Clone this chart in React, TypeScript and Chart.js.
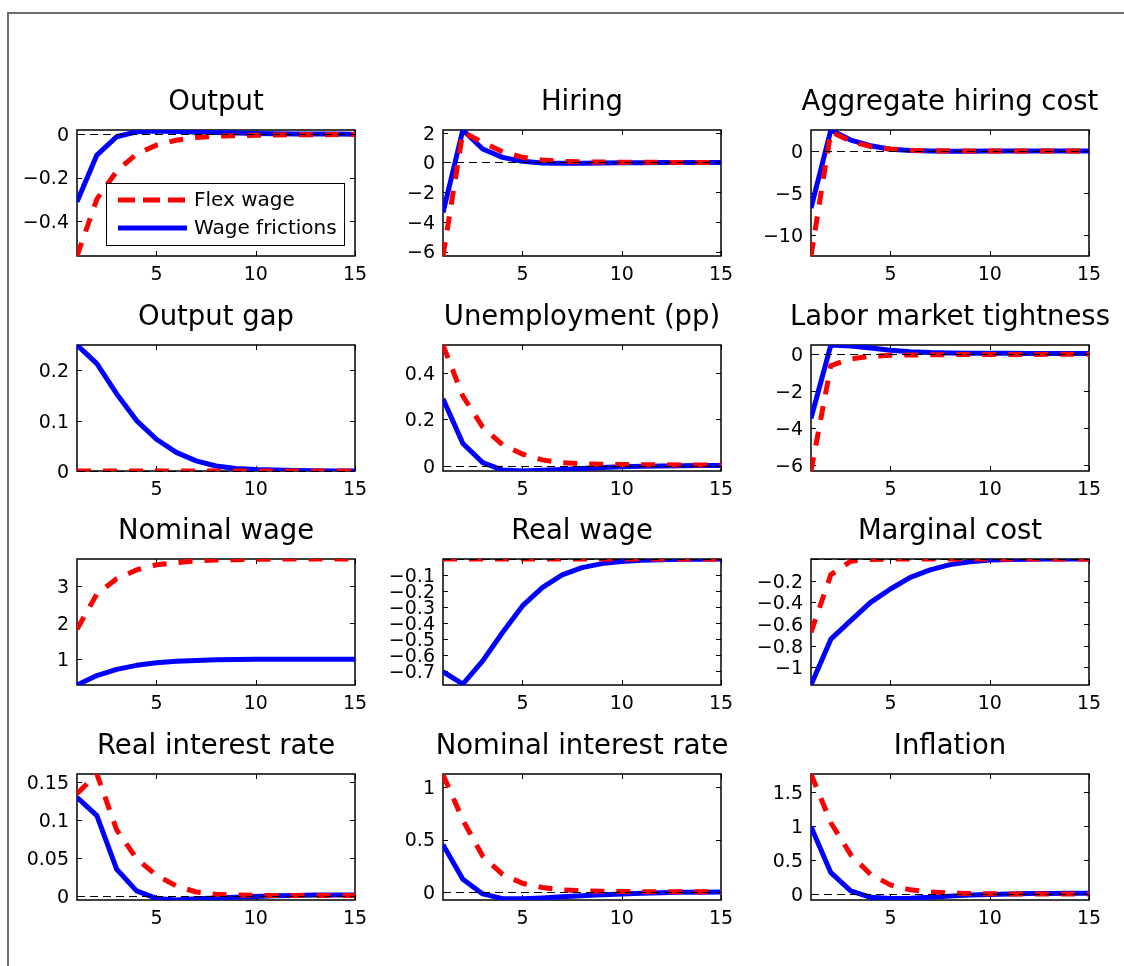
import React, { useEffect, useRef } from 'react';
import { Chart, registerables } from 'chart.js';

Chart.register(...registerables);

// ---------- data ----------
const PERIODS = [1, 2, 3, 4, 5, 6, 7, 8, 9, 10, 11, 12, 13, 14, 15];
const X_TICKS = [5, 10, 15];
const SERIES_LABELS = ['Flex wage', 'Wage frictions'];

const OUTPUT_FLEX = [-0.563, -0.3, -0.17, -0.091, -0.05, -0.027, -0.015, -0.009, -0.006, -0.004, -0.003, -0.002, -0.002, -0.001, -0.001];
const OUTPUT_FRIC = [-0.312, -0.096, -0.011, 0.012, 0.015, 0.013, 0.011, 0.008, 0.006, 0.004, 0.003, 0.002, 0.001, 0.001, 0.0];
const OUTPUT_RANGE = [-0.563, 0.02];
const OUTPUT_TICKS = [-0.4, -0.2, 0];

const HIRING_FLEX = [-6.3, 2.05, 1.35, 0.72, 0.34, 0.16, 0.07, 0.03, 0.02, 0.01, 0.01, 0.0, 0.0, 0.0, 0.0];
const HIRING_FRIC = [-3.38, 2.18, 0.9, 0.34, 0.07, -0.04, -0.06, -0.05, -0.04, -0.03, -0.02, -0.01, -0.01, 0.0, 0.0];
const HIRING_RANGE = [-6.3, 2.18];
const HIRING_TICKS = [-6, -4, -2, 0, 2];

const AGGCOST_FLEX = [-12.5, 2.3, 1.15, 0.52, 0.24, 0.1, 0.05, 0.02, 0.01, 0.0, 0.0, 0.0, 0.0, 0.0, 0.0];
const AGGCOST_FRIC = [-6.8, 2.5, 1.3, 0.63, 0.2, 0.05, 0.0, -0.02, -0.02, -0.01, -0.01, 0.0, 0.0, 0.0, 0.0];
const AGGCOST_RANGE = [-12.5, 2.5];
const AGGCOST_TICKS = [-10, -5, 0];

const GAP_FLEX = [0, 0, 0, 0, 0, 0, 0, 0, 0, 0, 0, 0, 0, 0, 0];
const GAP_FRIC = [0.25, 0.213, 0.153, 0.1, 0.063, 0.037, 0.02, 0.01, 0.005, 0.003, 0.002, 0.001, 0.0005, 0.0002, 0.0001];
const GAP_RANGE = [0, 0.25];
const GAP_TICKS = [0, 0.1, 0.2];

const UNEMP_FLEX = [0.521, 0.3, 0.167, 0.09, 0.05, 0.025, 0.013, 0.008, 0.006, 0.005, 0.004, 0.004, 0.003, 0.003, 0.003];
const UNEMP_FRIC = [0.289, 0.096, 0.013, -0.019, -0.023, -0.02, -0.016, -0.012, -0.008, -0.005, -0.003, -0.001, 0.0, 0.001, 0.001];
const UNEMP_RANGE = [-0.023, 0.521];
const UNEMP_TICKS = [0, 0.2, 0.4];

const TIGHT_FLEX = [-6.33, -0.63, -0.27, -0.13, -0.08, -0.06, -0.05, -0.04, -0.04, -0.03, -0.03, -0.03, -0.02, -0.02, -0.02];
const TIGHT_FRIC = [-3.49, 0.48, 0.42, 0.32, 0.2, 0.12, 0.07, 0.05, 0.04, 0.03, 0.03, 0.02, 0.02, 0.02, 0.02];
const TIGHT_RANGE = [-6.33, 0.48];
const TIGHT_TICKS = [-6, -4, -2, 0];

const NOMW_FLEX = [1.82, 2.79, 3.21, 3.45, 3.59, 3.65, 3.7, 3.72, 3.73, 3.74, 3.745, 3.75, 3.75, 3.75, 3.75];
const NOMW_FRIC = [0.29, 0.55, 0.72, 0.83, 0.9, 0.94, 0.965, 0.98, 0.99, 0.995, 1.0, 1.0, 1.0, 1.0, 1.0];
const NOMW_RANGE = [0.29, 3.75];
const NOMW_TICKS = [1, 2, 3];

const REALW_FLEX = [0, 0, 0, 0, 0, 0, 0, 0, 0, 0, 0, 0, 0, 0, 0];
const REALW_FRIC = [-0.706, -0.783, -0.638, -0.46, -0.294, -0.179, -0.1, -0.054, -0.029, -0.015, -0.008, -0.004, -0.002, -0.001, 0.0];
const REALW_RANGE = [-0.789, 0];
const REALW_TICKS = [-0.7, -0.6, -0.5, -0.4, -0.3, -0.2, -0.1];

const MC_FLEX = [-0.677, -0.145, -0.02, -0.005, -0.001, 0, 0, 0, 0, 0, 0, 0, 0, 0, 0];
const MC_FRIC = [-1.163, -0.74, -0.569, -0.4, -0.277, -0.169, -0.1, -0.052, -0.025, -0.01, -0.005, -0.002, -0.001, 0, 0];
const MC_RANGE = [-1.163, 0];
const MC_TICKS = [-1, -0.8, -0.6, -0.4, -0.2];

const RIR_FLEX = [0.135, 0.161, 0.087, 0.049, 0.027, 0.013, 0.005, 0.002, 0.001, 0.0005, 0.0005, 0.0005, 0.0005, 0.0005, 0.0005];
const RIR_FRIC = [0.13, 0.106, 0.035, 0.0065, -0.0035, -0.0055, -0.004, -0.003, -0.002, -0.001, 0.0, 0.0005, 0.001, 0.001, 0.001];
const RIR_RANGE = [-0.0056, 0.161];
const RIR_TICKS = [0, 0.05, 0.1, 0.15];

const NIR_FLEX = [1.12, 0.686, 0.34, 0.167, 0.082, 0.041, 0.019, 0.01, 0.005, 0.003, 0.002, 0.001, 0.001, 0.0, 0.0];
const NIR_FRIC = [0.45, 0.12, -0.02, -0.065, -0.065, -0.058, -0.048, -0.038, -0.028, -0.02, -0.013, -0.008, -0.005, -0.003, -0.002];
const NIR_RANGE = [-0.078, 1.126];
const NIR_TICKS = [0, 0.5, 1];

const INFL_FLEX = [1.767, 1.05, 0.58, 0.29, 0.135, 0.063, 0.03, 0.015, 0.008, 0.004, 0.002, 0.001, 0.001, 0.0, 0.0];
const INFL_FRIC = [0.99, 0.315, 0.048, -0.048, -0.065, -0.06, -0.045, -0.03, -0.015, -0.005, 0.003, 0.008, 0.01, 0.012, 0.012];
const INFL_RANGE = [-0.087, 1.767];
const INFL_TICKS = [0, 0.5, 1, 1.5];

const PANELS = [
  { title: 'Output', flex: OUTPUT_FLEX, fric: OUTPUT_FRIC, range: OUTPUT_RANGE, ticks: OUTPUT_TICKS, legend: true },
  { title: 'Hiring', flex: HIRING_FLEX, fric: HIRING_FRIC, range: HIRING_RANGE, ticks: HIRING_TICKS },
  { title: 'Aggregate hiring cost', flex: AGGCOST_FLEX, fric: AGGCOST_FRIC, range: AGGCOST_RANGE, ticks: AGGCOST_TICKS },
  { title: 'Output gap', flex: GAP_FLEX, fric: GAP_FRIC, range: GAP_RANGE, ticks: GAP_TICKS },
  { title: 'Unemployment (pp)', flex: UNEMP_FLEX, fric: UNEMP_FRIC, range: UNEMP_RANGE, ticks: UNEMP_TICKS },
  { title: 'Labor market tightness', flex: TIGHT_FLEX, fric: TIGHT_FRIC, range: TIGHT_RANGE, ticks: TIGHT_TICKS },
  { title: 'Nominal wage', flex: NOMW_FLEX, fric: NOMW_FRIC, range: NOMW_RANGE, ticks: NOMW_TICKS },
  { title: 'Real wage', flex: REALW_FLEX, fric: REALW_FRIC, range: REALW_RANGE, ticks: REALW_TICKS },
  { title: 'Marginal cost', flex: MC_FLEX, fric: MC_FRIC, range: MC_RANGE, ticks: MC_TICKS },
  { title: 'Real interest rate', flex: RIR_FLEX, fric: RIR_FRIC, range: RIR_RANGE, ticks: RIR_TICKS },
  { title: 'Nominal interest rate', flex: NIR_FLEX, fric: NIR_FRIC, range: NIR_RANGE, ticks: NIR_TICKS },
  { title: 'Inflation', flex: INFL_FLEX, fric: INFL_FRIC, range: INFL_RANGE, ticks: INFL_TICKS },
];

// ---------- layout / style ----------
const COL_LEFT = [77, 443, 811];
const ROW_TOP = [130, 345, 559, 774];
const PLOT_W = 278;
const PLOT_H = 126;
const PAD_L = 76;
const PAD_T = 56;
const PAD_R = 24;
const PAD_B = 40;
const FONT = '"DejaVu Sans", "Liberation Sans", Arial, sans-serif';
const RED = '#ff0000';
const BLUE = '#0000ff';
const DASH = [14, 12];

function fmt(v: number): string {
  const r = Math.round(v * 10000) / 10000;
  if (r === 0) return '0';
  return (r < 0 ? '\u2212' : '') + String(Math.abs(r));
}

const matlabPlugin = {
  id: 'matlabAxes',
  beforeDatasetsDraw(chart: any) {
    const { ctx, chartArea: a, scales } = chart;
    const x = scales.x;
    const y = scales.y;
    ctx.save();
    ctx.strokeStyle = '#000';
    ctx.lineWidth = 1;
    ctx.beginPath();
    for (const t of x.ticks) {
      const px = Math.round(x.getPixelForValue(t.value)) + 0.5;
      ctx.moveTo(px, a.bottom);
      ctx.lineTo(px, a.bottom - 5);
      ctx.moveTo(px, a.top);
      ctx.lineTo(px, a.top + 5);
    }
    for (const t of y.ticks) {
      const py = Math.round(y.getPixelForValue(t.value)) + 0.5;
      ctx.moveTo(a.left, py);
      ctx.lineTo(a.left + 5, py);
      ctx.moveTo(a.right, py);
      ctx.lineTo(a.right - 5, py);
    }
    ctx.stroke();
    ctx.lineWidth = 1.5;
    ctx.strokeRect(a.left, a.top, a.right - a.left, a.bottom - a.top);
    ctx.restore();
  },
  afterDatasetsDraw(chart: any, _args: any, opts: any) {
    const { ctx, chartArea: a, scales } = chart;
    const y = scales.y;
    ctx.save();
    if (y.min <= 0 && y.max >= 0) {
      const py = Math.round(y.getPixelForValue(0)) + 0.5;
      ctx.strokeStyle = '#000';
      ctx.lineWidth = 1;
      ctx.setLineDash([8, 5]);
      ctx.beginPath();
      ctx.moveTo(a.left, py);
      ctx.lineTo(a.right, py);
      ctx.stroke();
      ctx.setLineDash([]);
    }
    if (opts && opts.legend) {
      const bx = a.left + 29;
      const by = a.top + 53;
      const bw = 238;
      const bh = 62;
      ctx.fillStyle = '#fff';
      ctx.fillRect(bx, by, bw, bh);
      ctx.strokeStyle = '#000';
      ctx.lineWidth = 1;
      ctx.strokeRect(bx + 0.5, by + 0.5, bw, bh);
      const rows = [by + 17, by + 45];
      chart.data.datasets.forEach((ds: any, i: number) => {
        ctx.strokeStyle = ds.borderColor;
        ctx.lineWidth = ds.borderWidth;
        ctx.setLineDash(ds.borderDash ? [17, 8] : []);
        ctx.beginPath();
        ctx.moveTo(bx + 12, rows[i]);
        ctx.lineTo(bx + 81, rows[i]);
        ctx.stroke();
        ctx.setLineDash([]);
        ctx.fillStyle = '#000';
        ctx.font = '20px ' + FONT;
        ctx.textBaseline = 'middle';
        ctx.textAlign = 'left';
        ctx.fillText(ds.label, bx + 88, rows[i] + 1);
      });
    }
    ctx.restore();
  },
  afterDraw(chart: any, _args: any, opts: any) {
    const { ctx, chartArea: a } = chart;
    ctx.save();
    ctx.fillStyle = '#000';
    ctx.font = '27.5px ' + FONT;
    ctx.textAlign = 'center';
    ctx.textBaseline = 'alphabetic';
    ctx.fillText(opts.title, (a.left + a.right) / 2, a.top - 20);
    ctx.restore();
  },
};

function Panel({ index }: { index: number }) {
  const ref = useRef<HTMLCanvasElement | null>(null);
  const p = PANELS[index];
  const col = index % 3;
  const row = Math.floor(index / 3);
  const width = PAD_L + PLOT_W + PAD_R;
  const height = PAD_T + PLOT_H + PAD_B;
  const left = COL_LEFT[col] - PAD_L;
  const top = ROW_TOP[row] - PAD_T;

  useEffect(() => {
    if (!ref.current) return;
    const chart = new Chart(ref.current, {
      type: 'line',
      data: {
        datasets: [
          {
            label: SERIES_LABELS[0],
            data: PERIODS.map((t, i) => ({ x: t, y: p.flex[i] })),
            borderColor: RED,
            borderWidth: 5,
            borderDash: DASH,
            borderCapStyle: 'butt',
            pointRadius: 0,
            tension: 0,
            fill: false,
          },
          {
            label: SERIES_LABELS[1],
            data: PERIODS.map((t, i) => ({ x: t, y: p.fric[i] })),
            borderColor: BLUE,
            borderWidth: 5,
            borderCapStyle: 'butt',
            borderJoinStyle: 'round',
            pointRadius: 0,
            tension: 0,
            fill: false,
          },
        ],
      },
      options: {
        animation: false,
        responsive: false,
        maintainAspectRatio: false,
        devicePixelRatio: 1,
        layout: { padding: { top: PAD_T, right: PAD_R, left: 0, bottom: 0 } },
        plugins: {
          legend: { display: false },
          title: { display: false },
          tooltip: { enabled: false },
          matlabAxes: { title: p.title, legend: !!p.legend },
        } as any,
        scales: {
          x: {
            type: 'linear',
            min: PERIODS[0],
            max: PERIODS[PERIODS.length - 1],
            grid: { display: false, drawTicks: false },
            border: { display: false },
            afterBuildTicks: (s: any) => {
              s.ticks = X_TICKS.map((v) => ({ value: v }));
            },
            afterFit: (s: any) => {
              s.height = PAD_B;
            },
            ticks: {
              autoSkip: false,
              maxRotation: 0,
              padding: 8,
              color: '#000',
              font: { family: FONT, size: 19 },
              callback: (v: any) => fmt(Number(v)),
            },
          },
          y: {
            type: 'linear',
            min: p.range[0],
            max: p.range[1],
            grid: { display: false, drawTicks: false },
            border: { display: false },
            afterBuildTicks: (s: any) => {
              s.ticks = p.ticks.map((v) => ({ value: v }));
            },
            afterFit: (s: any) => {
              s.width = PAD_L;
            },
            ticks: {
              autoSkip: false,
              padding: 8,
              labelOffset: 2,
              color: '#000',
              font: { family: FONT, size: 19 },
              callback: (v: any) => fmt(Number(v)),
            },
          },
        },
      } as any,
      plugins: [matlabPlugin],
    });
    return () => chart.destroy();
  }, [index]);

  return (
    <canvas
      ref={ref}
      width={width}
      height={height}
      style={{ position: 'absolute', left, top, width, height }}
    />
  );
}

export default function App() {
  return (
    <div style={{ position: 'absolute', left: 0, top: 0, width: 1124, height: 966, overflow: 'hidden', background: '#fff' }}>
      <div
        style={{
          position: 'absolute',
          left: 7,
          top: 12,
          width: 1117,
          height: 954,
          borderTop: '2px solid #6e6e6e',
          borderLeft: '2px solid #6e6e6e',
          boxSizing: 'border-box',
        }}
      />
      {PANELS.map((_, i) => (
        <Panel key={i} index={i} />
      ))}
    </div>
  );
}
